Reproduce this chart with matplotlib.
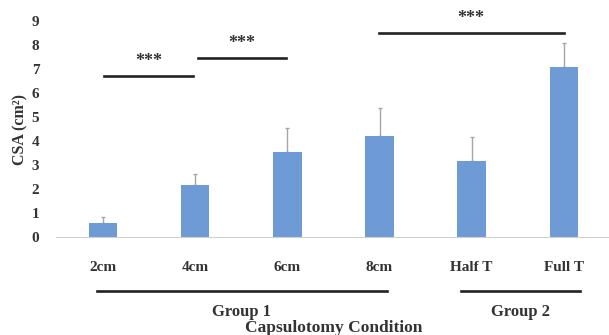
import matplotlib
matplotlib.use("Agg")
import matplotlib.pyplot as plt
import numpy as np

# dados
condicoes = ["2cm", "4cm", "6cm", "8cm", "Half T", "Full T"]
csa_media = [0.6, 2.15, 3.55, 4.22, 3.15, 7.07]
csa_erro = [0.23, 0.48, 0.98, 1.17, 1.0, 1.03]

plt.rcParams["font.family"] = ["Liberation Serif", "DejaVu Serif"]
plt.rcParams["font.weight"] = "bold"
cor_texto = "#333333"

fig = plt.figure(figsize=(6.09, 3.35), dpi=100)
ax = fig.add_axes([0.092, 0.2925, 0.908, 0.6445])

x = np.arange(len(condicoes))
ax.bar(x, csa_media, width=0.31, color="#6e9bd5", zorder=2)
ax.errorbar(x, csa_media, yerr=[np.zeros(len(csa_erro)), csa_erro], fmt="none",
            ecolor="#a6a6a6", elinewidth=1, capsize=1.5, capthick=1, zorder=1)

ax.set_xlim(-0.51, 5.49)
ax.set_ylim(0, 9)
ax.set_yticks(range(10))
ax.set_xticks(x)
ax.set_xticklabels(condicoes)
ax.tick_params(length=0, labelsize=11, colors=cor_texto)
ax.tick_params(axis="x", pad=17)
ax.tick_params(axis="y", pad=12)
for lab in ax.get_xticklabels() + ax.get_yticklabels():
    lab.set_fontweight("bold")
for s in ["top", "right", "left"]:
    ax.spines[s].set_visible(False)
ax.spines["bottom"].set_color("#d0d0d0")
ax.set_ylabel("CSA (cm²)", fontsize=11.5, fontweight="bold", color=cor_texto, labelpad=2)

# barras de significancia
sig = [(0.01, 0.98, 6.7), (1.03, 1.98, 7.45), (2.99, 5.0, 8.5)]
for a, b, h in sig:
    ax.plot([a, b], [h, h], color="#222222", lw=1.9, clip_on=False)
    ax.text((a + b) / 2, h + 0.62, "***", ha="center", va="center", fontsize=13,
            color=cor_texto, clip_on=False)

# grupos
trans = ax.get_xaxis_transform()
grupos = [("Group 1", -0.07, 3.08), ("Group 2", 3.88, 5.17)]
for nome, a, b in grupos:
    ax.plot([a, b], [-0.252, -0.252], color="#222222", lw=1.9, transform=trans, clip_on=False)
    ax.text((a + b) / 2, -0.345, nome, ha="center", va="center", fontsize=12,
            fontweight="bold", color=cor_texto, transform=trans)
ax.text(2.5, -0.42, "Capsulotomy Condition", ha="center", va="center", fontsize=12.5,
        fontweight="bold", color=cor_texto, transform=trans)

fig.savefig("out.png", dpi=100)
